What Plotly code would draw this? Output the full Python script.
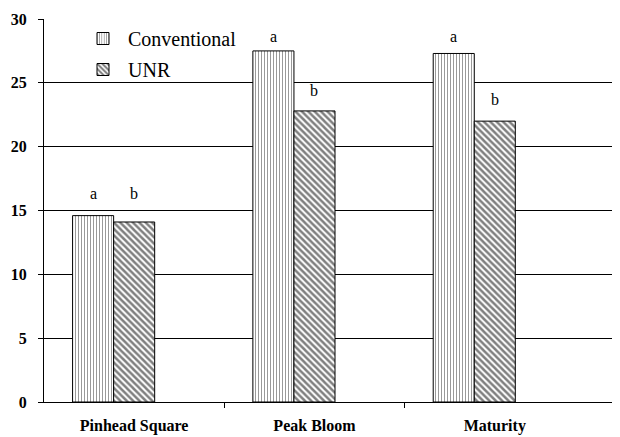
import plotly.graph_objects as go

categories = ["Pinhead Square", "Peak Bloom", "Maturity"]
conventional = [14.6, 27.5, 27.3]
unr = [14.1, 22.8, 22.0]
conv_letters = ["a", "a", "a"]
unr_letters = ["b", "b", "b"]
conv_letter_y = [16.35, 28.65, 28.65]
unr_letter_y = [16.35, 24.4, 23.7]

# page has an 8px body margin; figure is sized so the page matches 620x437
W, H = 612, 429
ml, mr, mt, mb = 36, 0, 11, 35.4
xrange_ = [-0.5, 2.5 + 35 / 180]

fig = go.Figure()
fig.add_trace(go.Bar(
    name="Conventional", x=categories, y=conventional, legendgroup="g1",
    marker=dict(color="white", line=dict(color="black", width=1),
                pattern=dict(shape="|", fgcolor="#333333", bgcolor="white", size=3, solidity=0.35)),
))
fig.add_trace(go.Bar(
    name="UNR", x=categories, y=unr, legendgroup="g2",
    marker=dict(color="white", line=dict(color="black", width=1),
                pattern=dict(shape="\\", fgcolor="black", bgcolor="white", size=4.5, solidity=0.55)),
))
fig.add_trace(go.Bar(
    name="", x=categories, y=[None, None, None], showlegend=False,
    marker=dict(color="white"),
))
# carrier trace so the boundary-tick axis is drawn
fig.add_trace(go.Scatter(x=[None], y=[None], xaxis="x2", yaxis="y", mode="markers",
                         showlegend=False, hoverinfo="skip"))

font = "Liberation Serif"
for c, v, t in zip(categories, conv_letter_y, conv_letters):
    fig.add_annotation(x=c, y=v, text=t, showarrow=False, xshift=-41,
                       yanchor="middle", font=dict(family=font, size=16, color="#000000"))
for c, v, t in zip(categories, unr_letter_y, unr_letters):
    fig.add_annotation(x=c, y=v, text=t, showarrow=False, xshift=0,
                       yanchor="middle", font=dict(family=font, size=16, color="#000000"))

plot_w = W - ml - mr
fig.update_layout(
    width=W, height=H,
    margin=dict(l=ml, r=mr, t=mt, b=mb, autoexpand=False),
    paper_bgcolor="white", plot_bgcolor="white",
    barmode="group", bargap=0.317, bargroupgap=0,
    font=dict(family=font, color="black"),
    legend=dict(x=(78 - 8 - ml) / plot_w, y=1.0, xanchor="left", yanchor="top",
                bgcolor="rgba(0,0,0,0)", font=dict(family=font, size=20, color="black"),
                itemwidth=40, tracegroupgap=2),
    xaxis=dict(range=xrange_, showgrid=False, showline=True, automargin=False,
               linecolor="black", linewidth=1, ticks="", ticklabelstandoff=9,
               tickfont=dict(family=font, size=16, color="black", weight="bold")),
    xaxis2=dict(range=xrange_, overlaying="x", anchor="y", side="bottom", type="linear",
                tickvals=[0.5, 1.5], ticks="outside", ticklen=5, tickcolor="black",
                showticklabels=False, showgrid=False, showline=False, zeroline=False,
                automargin=False),
    yaxis=dict(range=[0, 30], dtick=5, showgrid=True, gridcolor="black", gridwidth=1,
               showline=True, linecolor="black", linewidth=1, ticks="outside", automargin=False,
               ticklen=5, tickcolor="black", zeroline=False, ticklabelstandoff=8,
               tickfont=dict(family=font, size=16, color="black", weight="bold")),
)

fig.write_html("out.html")
